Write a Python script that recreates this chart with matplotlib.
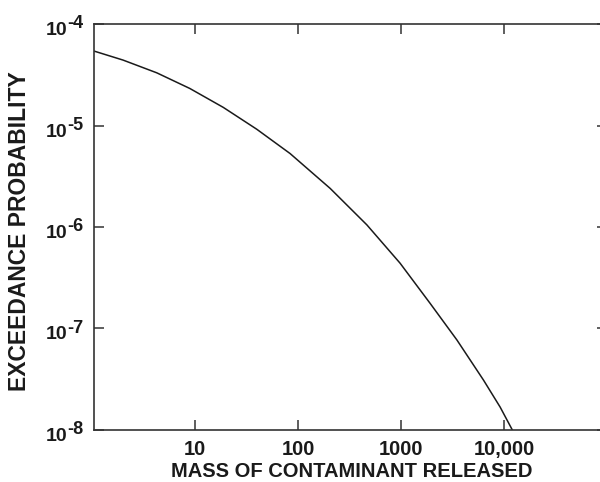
import matplotlib
matplotlib.use("Agg")
import matplotlib.pyplot as plt
from matplotlib.ticker import FixedLocator, NullLocator, NullFormatter

plt.rcParams['font.family'] = ['Liberation Sans', 'DejaVu Sans']
plt.rcParams['font.weight'] = 'bold'

# curve
mass = [1.0, 2.0, 4.25, 8.9, 18.8, 39.7, 83.6, 205, 465, 977, 1910, 3480, 6300, 9140, 12000]
prob = [5.5e-5, 4.42e-5, 3.31e-5, 2.32e-5, 1.51e-5, 9.2e-6, 5.3e-6, 2.4e-6, 1.05e-6,
        4.4e-7, 1.77e-7, 7.7e-8, 3.1e-8, 1.68e-8, 1.0e-8]

x_ticks = [10, 100, 1000, 10000]
x_labels = ['10', '100', '1000', '10,000']
y_ticks = [1e-8, 1e-7, 1e-6, 1e-5, 1e-4]
y_exps = ['-8', '-7', '-6', '-5', '-4']

TXT = '#1a1a1a'

fig = plt.figure(figsize=(6, 4.82), dpi=100)
ax = fig.add_axes([0.157, 0.108, 0.855, 0.842])

ax.plot(mass, prob, color='#1a1a1a', lw=1.1)

ax.set_xscale('log')
ax.set_yscale('log')
ax.set_xlim(1.05, 1e5)
ax.set_ylim(1e-8, 1e-4)

ax.xaxis.set_major_locator(FixedLocator(x_ticks))
ax.yaxis.set_major_locator(FixedLocator(y_ticks))
ax.xaxis.set_minor_locator(NullLocator())
ax.yaxis.set_minor_locator(NullLocator())
ax.set_xticklabels(x_labels, fontsize=14.5, fontweight='bold', color=TXT)
ax.yaxis.set_major_formatter(NullFormatter())

ax.tick_params(direction='in', length=7, width=1.1, color='#333333',
               top=True, right=True)
ax.tick_params(axis='x', pad=7)
for s in ax.spines.values():
    s.set_color('#333333')
    s.set_linewidth(1.2)

# y tick labels as 10 with a raised exponent
for yt, ex in zip(y_ticks, y_exps):
    ax.annotate('10', xy=(0, yt), xycoords=('axes fraction', 'data'),
                xytext=(-48.5, -11), textcoords='offset pixels',
                ha='left', va='baseline', fontsize=14, fontweight='bold', color=TXT)
    ax.annotate(ex, xy=(0, yt), xycoords=('axes fraction', 'data'),
                xytext=(-26.5, -4.3), textcoords='offset pixels',
                ha='left', va='baseline', fontsize=13, fontweight='bold', color=TXT)

ax.set_xlabel('MASS OF CONTAMINANT RELEASED', fontsize=14.5, fontweight='bold', color=TXT)
ax.xaxis.label.set_va('center')
ax.xaxis.set_label_coords(0.503, -0.102)
ax.set_ylabel('EXCEEDANCE PROBABILITY', fontsize=16.5, fontweight='bold', color=TXT)
ax.yaxis.label.set_va('center')
ax.yaxis.set_label_coords(-0.145, 0.489)

fig.savefig('out.png', dpi=100)
